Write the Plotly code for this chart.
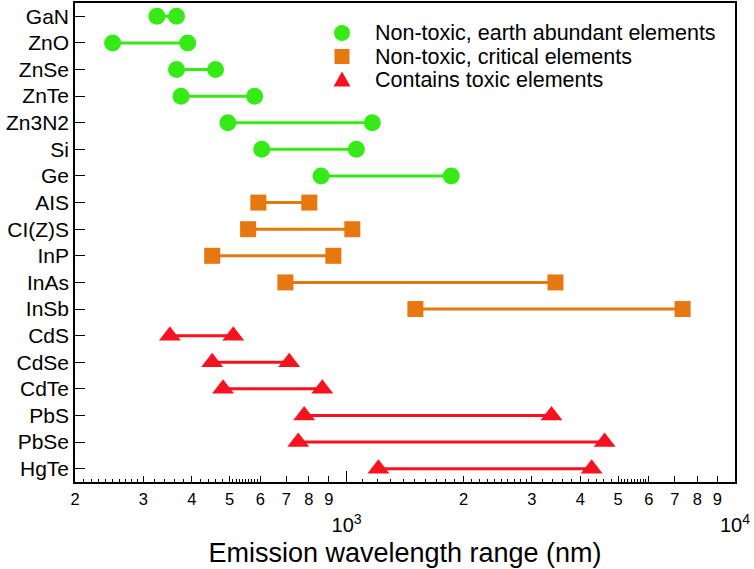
import math
import plotly.graph_objects as go

FONT = "Liberation Sans, Arial, sans-serif"

materials = ["GaN", "ZnO", "ZnSe", "ZnTe", "Zn3N2", "Si", "Ge", "AIS", "CI(Z)S",
             "InP", "InAs", "InSb", "CdS", "CdSe", "CdTe", "PbS", "PbSe", "HgTe"]

green_names = ["GaN", "ZnO", "ZnSe", "ZnTe", "Zn3N2", "Si", "Ge"]
green_min = [325, 250, 365, 375, 495, 605, 860]
green_max = [365, 390, 460, 580, 1165, 1060, 1860]

orange_names = ["AIS", "CI(Z)S", "InP", "InAs", "InSb"]
orange_min = [593, 558, 451, 696, 1504]
orange_max = [802, 1035, 925, 3450, 7330]

red_names = ["CdS", "CdSe", "CdTe", "PbS", "PbSe", "HgTe"]
red_min = [351, 451, 481, 778, 751, 1208]
red_max = [511, 712, 866, 3370, 4617, 4276]

legend_labels = ["Non-toxic, earth abundant elements", "Non-toxic, critical elements",
                 "Contains toxic elements"]

major_vals = [200, 300, 400, 500, 600, 700, 800, 900,
              2000, 3000, 4000, 5000, 6000, 7000, 8000, 9000]
major_text = ["2", "3", "4", "5", "6", "7", "8", "9",
              "2", "3", "4", "5", "6", "7", "8", "9"]
decade_vals = [1000, 10000]
decade_text = ["10<sup>3</sup>", "10<sup>4</sup>"]
minor_mult = [1.1, 1.2, 1.3, 1.4, 1.5, 1.6, 1.7, 1.8, 1.9,
              2.1, 2.2, 2.3, 2.4, 2.5, 2.6, 2.7, 2.8, 2.9,
              3.2, 3.4, 3.6, 3.8, 4.2, 4.4, 4.6, 4.8,
              5.1, 5.2, 5.3, 5.4, 5.5, 5.6, 5.7, 5.8, 5.9]
minor_vals = [m * d for d in (100, 1000) for m in minor_mult if m * d > 200]

GREEN, ORANGE, RED = "#35EA17", "#E6780F", "#F7121F"
groups = [
    (legend_labels[0], green_names, green_min, green_max, GREEN, "circle", 17),
    (legend_labels[1], orange_names, orange_min, orange_max, ORANGE, "square", 16),
    (legend_labels[2], red_names, red_min, red_max, RED, "triangle-up", 19),
]

fig = go.Figure()
for label, names, lo, hi, color, sym, size in groups:
    lx, ly = [], []
    for n, a, b in zip(names, lo, hi):
        lx += [a, b, None]
        ly += [n, n, None]
    fig.add_trace(go.Scatter(x=lx, y=ly, mode="lines", line=dict(color=color, width=3),
                             showlegend=False, hoverinfo="skip"))
    fig.add_trace(go.Scatter(x=lo + hi, y=names + names, mode="markers", name=label,
                             showlegend=False,
                             marker=dict(symbol=sym, size=size, color=color, line=dict(width=0))))

# invisible trace so the decade-label axis is drawn
fig.add_trace(go.Scatter(x=decade_vals, y=[materials[0]] * 2, xaxis="x2", mode="none",
                         showlegend=False, hoverinfo="skip"))

# plot area in pixels: x 75..735, y 3..482
L, R, T, B = 75, 735, 3, 482
def px(x):
    return (x - L) / (R - L)
def py(y):
    return (B - y) / (B - T)

# legend drawn manually (tighter row spacing than plotly's legend)
leg_rows = [33, 56.5, 80]
leg_mx, leg_tx = 342, 373
shapes = []
for row, (_, _, _, _, color, sym, size) in zip(leg_rows, groups):
    common = dict(xref="paper", yref="paper", xsizemode="pixel", ysizemode="pixel",
                  xanchor=px(leg_mx), yanchor=py(row), fillcolor=color,
                  line=dict(width=0), layer="above")
    if sym == "circle":
        shapes.append(dict(type="circle", x0=-8, x1=8, y0=-8, y1=8, **common))
    elif sym == "square":
        shapes.append(dict(type="rect", x0=-7.5, x1=7.5, y0=-7.5, y1=7.5, **common))
    else:
        shapes.append(dict(type="path", path="M -8.5 -6.5 L 8.5 -6.5 L 0 8.5 Z", **common))

annotations = [dict(xref="paper", yref="paper", x=px(leg_tx), y=py(row), xanchor="left",
                    yanchor="middle", text=lab, showarrow=False,
                    font=dict(size=21.5, family=FONT, color="black"))
               for row, lab in zip(leg_rows, legend_labels)]

xr = [math.log10(200), 4]

fig.update_layout(
    width=754, height=569,
    margin=dict(l=75, r=19, t=3, b=87),
    paper_bgcolor="white", plot_bgcolor="white",
    font=dict(family=FONT, color="black"),
    showlegend=False,
    shapes=shapes, annotations=annotations,
    xaxis=dict(type="log", range=xr, showline=True, linecolor="black", linewidth=1.5,
               mirror=True, ticks="inside", ticklen=6, tickwidth=1.2, tickcolor="black",
               tickmode="array", tickvals=major_vals, ticktext=major_text,
               tickfont=dict(size=16.5), showgrid=False, zeroline=False, automargin=False,
               ticklabelstandoff=1,
               minor=dict(tickmode="array", tickvals=minor_vals, ticks="inside",
                          ticklen=3, tickwidth=1, tickcolor="black", showgrid=False),
               title=dict(text="Emission wavelength range (nm)", font=dict(size=27),
                          standoff=37)),
    xaxis2=dict(type="log", range=xr, overlaying="x", side="bottom", anchor="y",
                showline=False, ticks="inside", ticklen=11, tickwidth=1.2, tickcolor="black",
                tickmode="array", tickvals=decade_vals, ticktext=decade_text,
                tickfont=dict(size=20), ticklabelstandoff=29, showgrid=False,
                zeroline=False, automargin=False),
    yaxis=dict(type="category", categoryorder="array", categoryarray=materials,
               range=[len(materials) - 0.5, -0.5], showline=True, linecolor="black",
               linewidth=1.5, mirror=True, ticks="inside", ticklen=10, tickwidth=1.2,
               tickcolor="black", tickfont=dict(size=21), showgrid=False, zeroline=False,
               automargin=False),
)

fig.write_html("out.html", post_script="document.body.style.margin='0px';",
               config={"displayModeBar": False})
